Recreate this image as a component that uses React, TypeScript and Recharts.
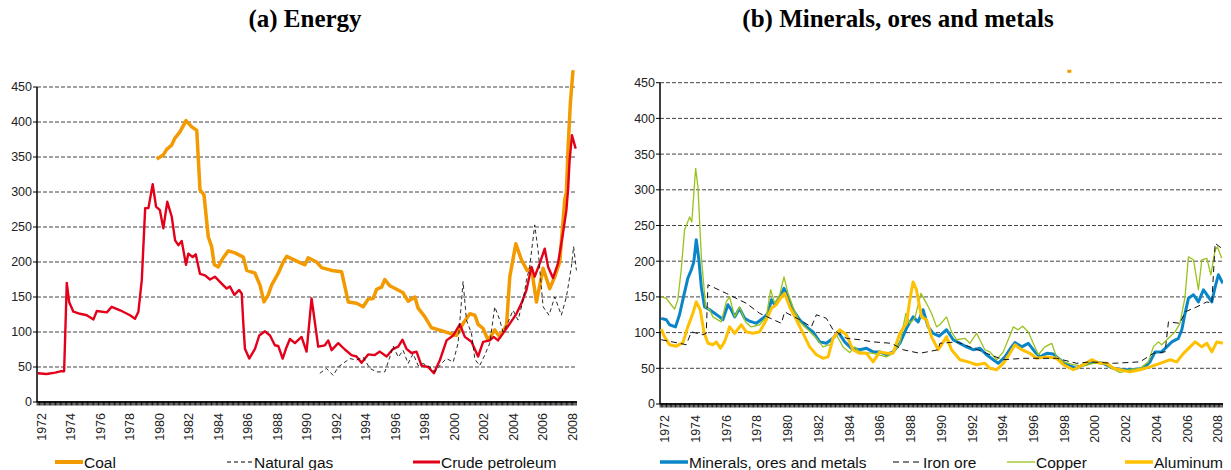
import { LineChart, Line, XAxis, YAxis, ReferenceLine, ReferenceDot } from "recharts";

// ---- data (year, index value) ----
const COAL: [number, number][] = [
  [1979.78, 347], [1980.23, 353], [1980.46, 361], [1980.8, 367], [1981.02, 377], [1981.36, 386], [1981.77, 402],
  [1982.16, 393], [1982.5, 388], [1982.72, 303], [1982.99, 296], [1983.28, 236], [1983.51, 222], [1983.69, 196],
  [1983.96, 193], [1984.26, 205], [1984.64, 216], [1985.09, 213], [1985.66, 207], [1985.89, 188], [1986.45, 184],
  [1986.79, 167], [1987.06, 143], [1987.35, 153], [1987.58, 167], [1988.03, 184], [1988.37, 200], [1988.6, 208],
  [1989.5, 199], [1989.84, 196], [1990.06, 206], [1990.63, 200], [1990.97, 192], [1991.65, 188], [1992.33, 186],
  [1992.78, 143], [1993.34, 141], [1993.79, 136], [1994.13, 147], [1994.47, 148], [1994.7, 161], [1995.04, 164],
  [1995.26, 175], [1995.6, 166], [1996.06, 161], [1996.5, 156], [1996.84, 144], [1997.3, 150], [1997.52, 134],
  [1997.97, 122], [1998.43, 106], [1999.1, 102], [1999.67, 98], [2000.12, 95], [2000.57, 112], [2001.03, 126],
  [2001.37, 124], [2001.59, 111], [2001.93, 105], [2002.27, 88], [2002.72, 103], [2003.06, 93], [2003.52, 110],
  [2003.74, 179], [2004.15, 226], [2004.53, 203], [2004.91, 188], [2005.21, 191], [2005.55, 143], [2006.0, 191],
  [2006.45, 162], [2006.79, 179], [2007.13, 200], [2007.47, 289], [2007.58, 300], [2007.7, 365], [2007.85, 427],
  [2008.03, 474],
];

const NATURAL_GAS: [number, number][] = [
  [1990.85, 41], [1991.3, 48], [1991.76, 38], [1992.1, 50], [1992.55, 57], [1992.89, 62], [1993.34, 60],
  [1993.79, 64], [1994.25, 48], [1994.7, 43], [1995.26, 43], [1995.6, 64], [1995.83, 80], [1996.17, 64],
  [1996.5, 74], [1996.84, 55], [1997.18, 69], [1997.52, 52], [1997.86, 55], [1998.31, 50], [1998.65, 43],
  [1999.1, 55], [1999.45, 62], [1999.9, 57], [2000.23, 84], [2000.57, 172], [2000.8, 117], [2001.14, 98],
  [2001.37, 61], [2001.7, 52], [2002.04, 67], [2002.38, 84], [2002.72, 136], [2003.06, 117], [2003.28, 100],
  [2003.62, 114], [2003.96, 131], [2004.3, 117], [2004.64, 145], [2004.87, 174], [2005.09, 193], [2005.43, 253],
  [2005.66, 217], [2006.0, 136], [2006.4, 124], [2006.79, 150], [2007.24, 124], [2007.58, 150], [2007.92, 193],
  [2008.07, 222], [2008.26, 188],
];

const CRUDE_PETROLEUM: [number, number][] = [
  [1971.72, 41], [1972.3, 40], [1972.9, 42], [1973.3, 44], [1973.5, 44], [1973.68, 170], [1973.84, 143],
  [1974.13, 129], [1974.58, 126], [1975.04, 124], [1975.49, 118], [1975.72, 130], [1976.4, 128], [1976.73, 136],
  [1977.3, 131], [1977.97, 124], [1978.31, 119], [1978.54, 129], [1978.77, 174], [1979.0, 277], [1979.22, 277],
  [1979.51, 311], [1979.74, 279], [1980.0, 274], [1980.23, 248], [1980.5, 286], [1980.8, 265], [1981.03, 231],
  [1981.25, 224], [1981.48, 230], [1981.77, 196], [1981.93, 212], [1982.22, 207], [1982.43, 211], [1982.72, 183],
  [1983.06, 181], [1983.4, 175], [1983.73, 179], [1984.19, 169], [1984.53, 162], [1984.75, 165], [1985.05, 153],
  [1985.37, 160], [1985.55, 155], [1985.66, 112], [1985.77, 76], [1986.06, 62], [1986.45, 76], [1986.74, 95],
  [1987.13, 101], [1987.47, 95], [1987.8, 81], [1988.03, 80], [1988.33, 62], [1988.55, 76], [1988.82, 90],
  [1989.16, 84], [1989.61, 93], [1989.95, 72], [1990.29, 148], [1990.74, 79], [1991.19, 81], [1991.42, 88],
  [1991.65, 74], [1992.1, 84], [1992.55, 75], [1993.0, 67], [1993.34, 65], [1993.68, 56], [1994.13, 68],
  [1994.58, 67], [1994.92, 72], [1995.38, 65], [1995.83, 76], [1996.17, 79], [1996.46, 89], [1996.73, 76],
  [1997.07, 70], [1997.41, 72], [1997.75, 52], [1998.2, 50], [1998.59, 41], [1999.0, 60], [1999.45, 88],
  [1999.9, 95], [2000.35, 111], [2000.69, 93], [2001.14, 86], [2001.59, 65], [2001.93, 86], [2002.38, 88],
  [2002.65, 93], [2002.94, 88], [2003.28, 98], [2003.74, 112], [2004.19, 126], [2004.53, 141], [2004.87, 160],
  [2005.21, 193], [2005.43, 179], [2005.77, 198], [2006.11, 219], [2006.34, 193], [2006.67, 177], [2007.01, 198],
  [2007.35, 241], [2007.58, 274], [2007.7, 305], [2007.8, 346], [2007.96, 381], [2008.21, 362],
];

const MINERALS: [number, number][] = [
  [1971.74, 120], [1972.07, 118], [1972.28, 111], [1972.67, 108], [1972.93, 125], [1973.19, 150], [1973.47, 176],
  [1973.7, 188], [1973.86, 199], [1974.02, 230], [1974.19, 202], [1974.35, 164], [1974.56, 136], [1974.89, 132],
  [1975.21, 127], [1975.54, 122], [1975.75, 118], [1976.08, 139], [1976.3, 132], [1976.52, 122], [1976.84, 134],
  [1977.17, 120], [1977.49, 116], [1977.93, 113], [1978.36, 120], [1978.69, 127], [1978.91, 146], [1979.12, 139],
  [1979.45, 148], [1979.73, 162], [1979.99, 150], [1980.31, 132], [1980.75, 118], [1981.19, 108], [1981.62, 101],
  [1982.05, 87], [1982.49, 85], [1982.92, 92], [1983.25, 101], [1983.68, 87], [1984.12, 78], [1984.66, 76],
  [1985.1, 78], [1985.53, 73], [1985.96, 73], [1986.4, 69], [1986.83, 73], [1987.27, 85], [1987.7, 106],
  [1988.13, 122], [1988.46, 115], [1988.78, 132], [1989.11, 108], [1989.44, 99], [1989.83, 95], [1990.31, 104],
  [1990.74, 90], [1991.18, 85], [1991.61, 80], [1992.04, 76], [1992.48, 78], [1992.91, 69], [1993.35, 62],
  [1993.67, 57], [1994.11, 66], [1994.54, 80], [1994.76, 86], [1995.2, 80], [1995.63, 85], [1996.06, 73],
  [1996.39, 66], [1996.83, 71], [1997.26, 70], [1997.69, 62], [1998.13, 55], [1998.78, 50], [1999.21, 55],
  [1999.86, 59], [2000.51, 57], [2001.16, 50], [2001.81, 48], [2002.46, 48], [2003.12, 50], [2003.55, 59],
  [2003.88, 73], [2004.31, 73], [2004.64, 80], [2004.97, 87], [2005.4, 92], [2005.62, 104], [2005.83, 127],
  [2006.05, 148], [2006.38, 153], [2006.7, 143], [2007.03, 160], [2007.35, 150], [2007.57, 143], [2007.79, 164],
  [2008.0, 181], [2008.29, 169],
];

const IRON_ORE: [number, number][] = [
  [1971.74, 90], [1972.93, 85], [1973.37, 83], [1973.7, 101], [1974.45, 97], [1974.67, 99], [1974.78, 167],
  [1975.97, 155], [1977.28, 141], [1978.14, 127], [1979.56, 113], [1979.77, 129], [1980.75, 118], [1981.51, 108],
  [1981.84, 125], [1982.49, 120], [1982.92, 104], [1983.79, 92], [1984.66, 90], [1985.53, 87], [1986.73, 85],
  [1987.48, 76], [1988.57, 71], [1989.77, 76], [1989.87, 85], [1990.96, 87], [1991.83, 80], [1992.91, 71],
  [1994.0, 62], [1995.3, 64], [1996.39, 64], [1997.47, 64], [1998.78, 57], [1999.65, 59], [2001.16, 57],
  [2002.9, 59], [2003.77, 71], [2004.53, 73], [2004.75, 115], [2005.5, 113], [2005.83, 129], [2006.59, 136],
  [2007.25, 143], [2007.57, 141], [2007.79, 225], [2008.22, 218],
];

const COPPER: [number, number][] = [
  [1971.74, 150], [1972.07, 148], [1972.39, 139], [1972.61, 133], [1972.82, 146], [1973.04, 188], [1973.26, 244],
  [1973.59, 262], [1973.73, 255], [1973.98, 330], [1974.13, 304], [1974.35, 206], [1974.63, 136], [1974.89, 132],
  [1975.1, 122], [1975.65, 115], [1975.97, 143], [1976.19, 150], [1976.52, 122], [1976.84, 136], [1977.23, 115],
  [1977.6, 108], [1978.14, 111], [1978.58, 122], [1978.86, 160], [1979.12, 141], [1979.45, 153], [1979.73, 178],
  [1979.99, 155], [1980.31, 136], [1980.75, 115], [1981.29, 104], [1981.84, 92], [1982.27, 80], [1982.71, 83],
  [1983.14, 97], [1983.57, 80], [1984.01, 72], [1984.33, 80], [1984.66, 73], [1985.53, 71], [1986.4, 66],
  [1986.83, 71], [1987.27, 85], [1987.66, 127], [1987.92, 113], [1988.24, 120], [1988.64, 155], [1989.0, 141],
  [1989.33, 127], [1989.66, 108], [1989.87, 111], [1990.31, 122], [1990.63, 101], [1990.96, 90], [1991.5, 92],
  [1991.83, 85], [1992.26, 99], [1992.8, 76], [1993.13, 73], [1993.57, 62], [1994.0, 73], [1994.32, 90],
  [1994.65, 108], [1994.97, 104], [1995.26, 109], [1995.63, 101], [1995.95, 85], [1996.28, 69], [1996.71, 80],
  [1997.15, 85], [1997.47, 66], [1997.91, 59], [1998.56, 55], [1999.21, 53], [1999.86, 57], [2000.51, 57],
  [2001.16, 49], [2001.6, 44], [2002.25, 48], [2002.9, 50], [2003.44, 59], [2003.77, 80], [2004.1, 87],
  [2004.31, 83], [2004.75, 92], [2005.18, 101], [2005.5, 113], [2005.83, 150], [2006.05, 206], [2006.38, 202],
  [2006.7, 160], [2006.92, 202], [2007.25, 204], [2007.51, 181], [2007.79, 216], [2007.94, 220], [2008.22, 204],
];

const ALUMINUM: [number, number][] = [
  [1971.74, 105], [1971.96, 94], [1972.28, 83], [1972.72, 81], [1973.15, 86], [1973.47, 108], [1973.8, 127],
  [1974.02, 143], [1974.28, 132], [1974.52, 101], [1974.78, 85], [1975.1, 83], [1975.32, 87], [1975.59, 78],
  [1975.86, 87], [1976.19, 108], [1976.52, 99], [1976.95, 111], [1977.28, 101], [1977.71, 99], [1978.14, 101],
  [1978.58, 118], [1978.91, 134], [1979.23, 139], [1979.56, 150], [1979.77, 155], [1980.1, 136], [1980.54, 118],
  [1980.97, 99], [1981.4, 80], [1981.84, 69], [1982.27, 64], [1982.6, 66], [1982.92, 92], [1983.36, 104],
  [1983.79, 97], [1984.22, 76], [1984.66, 71], [1985.1, 71], [1985.53, 59], [1985.96, 73], [1986.4, 71],
  [1986.83, 71], [1987.27, 99], [1987.7, 113], [1987.92, 146], [1988.13, 171], [1988.35, 160], [1988.68, 122],
  [1989.0, 118], [1989.33, 94], [1989.77, 76], [1990.31, 94], [1990.63, 76], [1991.18, 62], [1991.72, 59],
  [1992.26, 55], [1992.8, 57], [1993.13, 50], [1993.57, 48], [1994.0, 57], [1994.43, 71], [1994.76, 83],
  [1995.2, 76], [1995.73, 71], [1996.17, 64], [1996.83, 66], [1997.47, 64], [1997.91, 55], [1998.56, 48],
  [1999.21, 55], [1999.75, 62], [2000.29, 57], [2000.73, 57], [2001.16, 50], [2001.6, 48], [2002.25, 45],
  [2002.9, 48], [2003.55, 52], [2004.2, 57], [2004.86, 62], [2005.29, 59], [2005.73, 71], [2006.16, 80],
  [2006.49, 87], [2006.92, 80], [2007.25, 85], [2007.57, 73], [2007.9, 87], [2008.29, 85],
];

// stray marker that sits above panel (b)
const STRAY_POINT: [number, number] = [1998.3, 466];

const Y_TICKS = [0, 50, 100, 150, 200, 250, 300, 350, 400, 450];
const YEAR_LABELS = [1972, 1974, 1976, 1978, 1980, 1982, 1984, 1986, 1988, 1990, 1992, 1994, 1996, 1998, 2000, 2002, 2004, 2006, 2008];
const X_DOMAIN: [number, number] = [1971.66, 2008.3];

// monthly minor ticks along the time axis
const MONTH_TICKS: number[] = [];
for (let yr = 1971; yr <= 2008; yr++) {
  for (let m = 0; m < 12; m++) {
    const v = yr + m / 12;
    if (v >= X_DOMAIN[0] && v <= X_DOMAIN[1]) MONTH_TICKS.push(v);
  }
}

const SANS = "'Liberation Sans', Arial, sans-serif";
const SERIF = "'Liberation Serif', 'Times New Roman', serif";

const toPoints = (arr: [number, number][]) => arr.map(([x, y]) => ({ x, y }));

function YearTick(props: any) {
  const { x, y, payload } = props;
  const v = payload.value as number;
  const yr = Math.round(v);
  const isLabel = Math.abs(v - yr) < 1e-6 && YEAR_LABELS.includes(yr);
  return (
    <g>
      <line x1={x} x2={x} y1={y - 5} y2={y - 0.5} stroke="#000" strokeWidth={0.9} />
      {isLabel && (
        <text
          transform={`translate(${x}, ${y + 7}) rotate(-90)`}
          textAnchor="end"
          dominantBaseline="central"
          fontSize={12.5}
          fontFamily={SANS}
          fill="#222"
        >
          {yr}
        </text>
      )}
    </g>
  );
}

function commonAxes(yWidth: number) {
  return [
    ...Y_TICKS.filter((t) => t > 0).map((t) => (
      <ReferenceLine key={`g${t}`} y={t} stroke="#444" strokeDasharray="4 2" strokeWidth={1} />
    )),
    <XAxis
      key="x"
      type="number"
      dataKey="x"
      domain={X_DOMAIN}
      allowDataOverflow
      ticks={MONTH_TICKS}
      interval={0}
      height={40}
      tickSize={4}
      tickMargin={0}
      tickLine={false}
      axisLine={{ stroke: "#000", strokeWidth: 1.5 }}
      tick={<YearTick />}
    />,
    <YAxis
      key="y"
      type="number"
      domain={[0, 500]}
      ticks={Y_TICKS}
      interval={0}
      width={yWidth}
      axisLine={false}
      tickSize={4}
      tickMargin={1}
      tickLine={{ stroke: "#000" }}
      tick={{ fontSize: 12.5, fontFamily: SANS, fill: "#222" }}
    />,
    <ReferenceLine
      key="yl"
      segment={[{ x: X_DOMAIN[0], y: 0 }, { x: X_DOMAIN[0], y: 450 }]}
      stroke="#000"
      strokeWidth={1.5}
    />,
  ];
}

type LegendItem = { label: string; x: number; len: number; color: string; width: number; dash?: string };

const LEFT_LEGEND: LegendItem[] = [
  { label: "Coal", x: 55, len: 28, color: "#F39A00", width: 4 },
  { label: "Natural gas", x: 227, len: 26, color: "#000", width: 1, dash: "4 3" },
  { label: "Crude petroleum", x: 413, len: 27, color: "#E2001A", width: 3 },
];
const RIGHT_LEGEND: LegendItem[] = [
  { label: "Minerals, ores and metals", x: 660, len: 28, color: "#0A86C8", width: 3.5 },
  { label: "Iron ore", x: 893, len: 29, color: "#000", width: 1.2, dash: "6 4" },
  { label: "Copper", x: 1007, len: 28, color: "#99C21C", width: 1.3 },
  { label: "Aluminum", x: 1125, len: 28, color: "#FFC000", width: 3.5 },
];

function Legend() {
  const items = [...LEFT_LEGEND, ...RIGHT_LEGEND];
  return (
    <svg width={1231} height={470} style={{ position: "absolute", left: 0, top: 0, pointerEvents: "none" }}>
      {items.map((it) => (
        <g key={it.label}>
          <line x1={it.x} x2={it.x + it.len} y1={462} y2={462} stroke={it.color} strokeWidth={it.width} strokeDasharray={it.dash} />
          <text x={it.x + it.len + 1} y={467.5} fontSize={15.5} fontFamily={SANS} fill="#111">
            {it.label}
          </text>
        </g>
      ))}
    </svg>
  );
}

const titleStyle = {
  position: "absolute" as const,
  top: 0,
  textAlign: "center" as const,
  fontFamily: SERIF,
  fontWeight: "bold" as const,
  fontSize: 25,
  lineHeight: "38px",
  color: "#000",
};

export default function App() {
  return (
    <div style={{ position: "absolute", left: 0, top: 0, width: 1231, height: 470, background: "#fff", overflow: "hidden" }}>
      <div style={{ ...titleStyle, left: 0, width: 610 }}>(a) Energy</div>
      <div style={{ ...titleStyle, left: 600, width: 596 }}>(b) Minerals, ores and metals</div>

      <div style={{ position: "absolute", left: 0, top: 0 }}>
        <LineChart width={580} height={470} margin={{ top: 52, right: 3, bottom: 28, left: 0 }}>
          {commonAxes(37)}
          <Line data={toPoints(COAL)} dataKey="y" stroke="#F39A00" strokeWidth={3.5} dot={false} activeDot={false} isAnimationActive={false} strokeLinejoin="round" />
          <Line data={toPoints(CRUDE_PETROLEUM)} dataKey="y" stroke="#E2001A" strokeWidth={2.4} dot={false} activeDot={false} isAnimationActive={false} strokeLinejoin="round" />
          <Line data={toPoints(NATURAL_GAS)} dataKey="y" stroke="#111" strokeWidth={0.9} strokeDasharray="4 3" dot={false} activeDot={false} isAnimationActive={false} />
        </LineChart>
      </div>

      <div style={{ position: "absolute", left: 610, top: 0 }}>
        <LineChart width={621} height={470} margin={{ top: 47, right: 8, bottom: 26, left: 0 }}>
          {commonAxes(50)}
          <Line data={toPoints(MINERALS)} dataKey="y" stroke="#0A86C8" strokeWidth={3} dot={false} activeDot={false} isAnimationActive={false} strokeLinejoin="round" />
          <Line data={toPoints(COPPER)} dataKey="y" stroke="#99C21C" strokeWidth={1.3} dot={false} activeDot={false} isAnimationActive={false} strokeLinejoin="round" />
          <Line data={toPoints(ALUMINUM)} dataKey="y" stroke="#FFC000" strokeWidth={3} dot={false} activeDot={false} isAnimationActive={false} strokeLinejoin="round" />
          <Line data={toPoints(IRON_ORE)} dataKey="y" stroke="#111" strokeWidth={1} strokeDasharray="6 4" dot={false} activeDot={false} isAnimationActive={false} />
          <ReferenceDot
            x={STRAY_POINT[0]}
            y={STRAY_POINT[1]}
            r={2}
            shape={(p: any) => <rect x={p.cx - 2} y={p.cy - 1.5} width={4} height={3} fill="#F39A00" />}
          />
        </LineChart>
      </div>

      <Legend />
    </div>
  );
}
